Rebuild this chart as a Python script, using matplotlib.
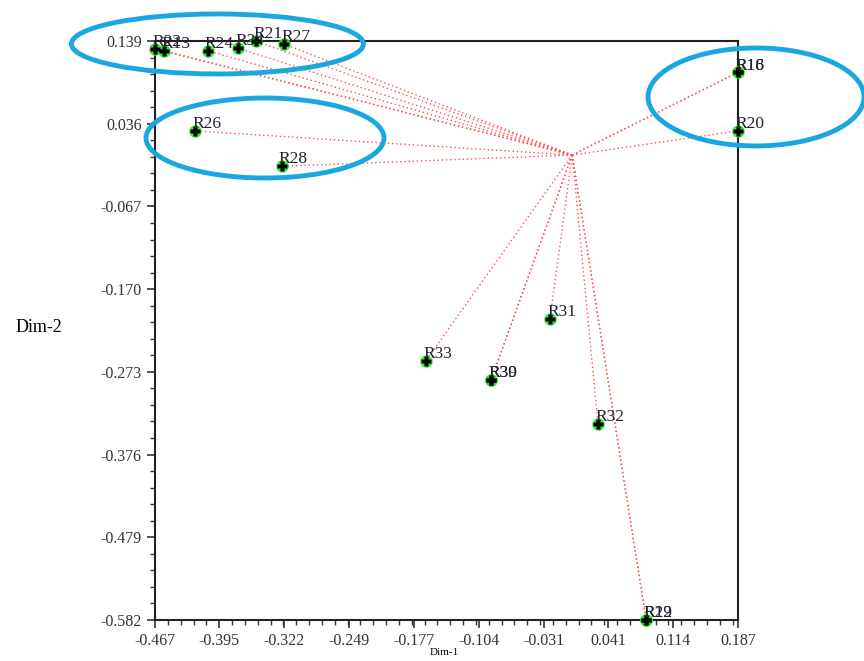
import matplotlib.pyplot as plt
from matplotlib.patches import Ellipse
from matplotlib.ticker import AutoMinorLocator, FixedLocator

plt.rcParams['font.family'] = ['Liberation Serif', 'DejaVu Serif']

# points of the projection (Dim-1, Dim-2)
labels = ['R22', 'R13', 'R24', 'R34', 'R21', 'R27', 'R26', 'R28',
          'R16', 'R18', 'R20', 'R31', 'R33', 'R39', 'R30', 'R32', 'R29', 'R12']
dim1 = [-0.467, -0.457, -0.408, -0.374, -0.354, -0.322, -0.422, -0.325,
        0.187, 0.187, 0.187, -0.024, -0.163, -0.090, -0.090, 0.030, 0.084, 0.084]
dim2 = [0.129, 0.127, 0.127, 0.130, 0.139, 0.135, 0.027, -0.017,
        0.100, 0.100, 0.027, -0.207, -0.259, -0.283, -0.283, -0.338, -0.582, -0.582]

# point where all the dotted lines meet
center = (0.001, -0.003)

xticks = [-0.467, -0.395, -0.322, -0.249, -0.177, -0.104, -0.031, 0.041, 0.114, 0.187]
yticks = [0.139, 0.036, -0.067, -0.170, -0.273, -0.376, -0.479, -0.582]

fig = plt.figure(figsize=(8.64, 6.61), dpi=100)
ax = fig.add_axes([0.1794, 0.062, 0.6748, 0.876])

for x, y in zip(dim1, dim2):
    ax.plot([center[0], x], [center[1], y], color='#ff5050', ls=(0, (1, 2)), lw=1.0, zorder=2)

ax.plot(dim1, dim2, 'o', color='#22ee22', ms=9, mec='none', alpha=0.9, clip_on=False, zorder=3)
ax.plot(dim1, dim2, 'P', color='black', ms=6.5, mec='none', clip_on=False, zorder=4)

for lab, x, y in zip(labels, dim1, dim2):
    ax.annotate(lab, (x, y), xytext=(-2, 2), textcoords='offset points',
                fontsize=12.5, color='#222233', zorder=5, annotation_clip=False)

ax.set_xlim(xticks[0], xticks[-1])
ax.set_ylim(yticks[-1], yticks[0])
ax.xaxis.set_major_locator(FixedLocator(xticks))
ax.yaxis.set_major_locator(FixedLocator(yticks))
ax.set_xticklabels([f'{t:.3f}' for t in xticks])
ax.set_yticklabels([f'{t:.3f}' for t in yticks])
ax.xaxis.set_minor_locator(AutoMinorLocator(5))
ax.yaxis.set_minor_locator(AutoMinorLocator(5))
ax.tick_params(which='major', direction='out', length=6, width=1.2, labelsize=11.5,
               color='#333333', labelcolor='#333333')
ax.tick_params(which='minor', direction='out', length=3.5, width=1.0, color='#333333')
for s in ax.spines.values():
    s.set_linewidth(1.5)
    s.set_color('#222222')

ax.set_xlabel('Dim-1', fontsize=8)
ax.xaxis.set_label_coords(0.497, -0.049)
ax.set_ylabel('Dim-2', rotation=0, fontsize=13, va='center')
ax.yaxis.set_label_coords(-0.2, 0.506)

# blue hand-drawn highlight ellipses
for cx, cy, w, h in [(-0.397, 0.1353, 0.3276, 0.0747),
                     (-0.3436, 0.0182, 0.267, 0.0996),
                     (0.2072, 0.0693, 0.2423, 0.122)]:
    ax.add_patch(Ellipse((cx, cy), w, h, fill=False, ec='#1aa7e0', lw=3.5,
                         clip_on=False, zorder=6))

fig.savefig('out.png', dpi=100)
